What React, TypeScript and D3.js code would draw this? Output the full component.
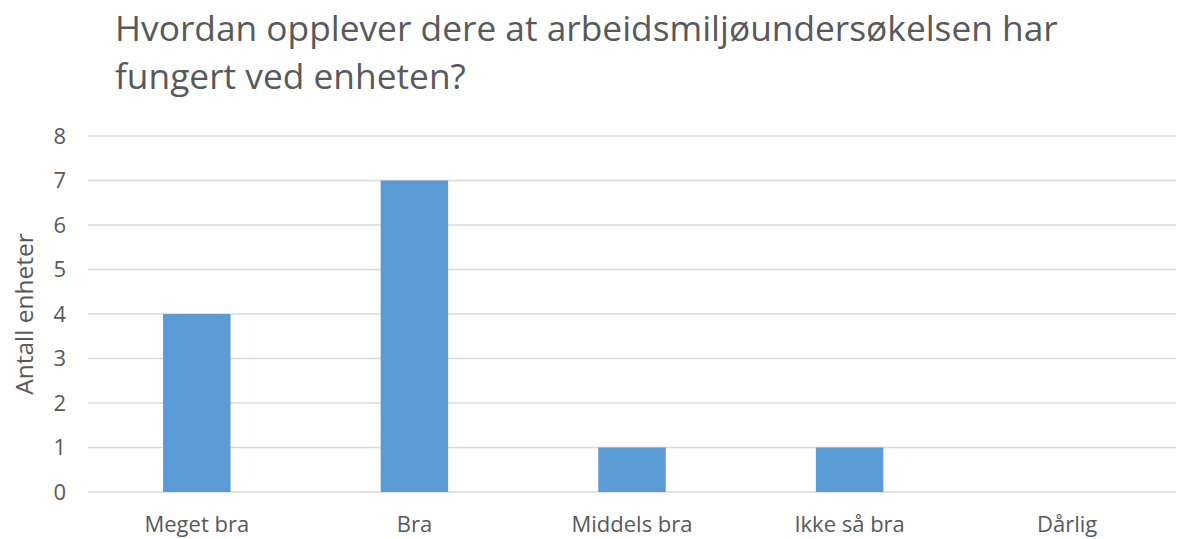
import React from "react";
import * as d3 from "d3";

const categories = ["Meget bra", "Bra", "Middels bra", "Ikke så bra", "Dårlig"];
const values = [4, 7, 1, 1, 0];
const yTicks = [0, 1, 2, 3, 4, 5, 6, 7, 8];
const titleLines = [
  "Hvordan opplever dere at arbeidsmiljøundersøkelsen har",
  "fungert ved enheten?",
];

const width = 1177;
const height = 539;
const margin = { top: 136, right: 1, bottom: 47, left: 88 };
const font = "'Open Sans', 'Noto Sans', sans-serif";
const textColor = "#595959";

export default function App() {
  const x = d3
    .scaleBand<string>()
    .domain(categories)
    .range([margin.left, width - margin.right])
    .paddingInner(0.69)
    .paddingOuter(0.345);
  const y = d3
    .scaleLinear()
    .domain([0, 8])
    .range([height - margin.bottom, margin.top]);

  return (
    <svg
      width={width}
      height={height}
      style={{ position: "absolute", left: 0, top: 0, background: "#fff" }}
      fontFamily={font}
    >
      {titleLines.map((t, i) => (
        <text key={t} x={115} y={41 + i * 48} fontSize={35.3} fill={textColor}>
          {t}
        </text>
      ))}

      {/* gridlines */}
      {yTicks.map((t) => (
        <line
          key={t}
          x1={margin.left}
          x2={width - margin.right}
          y1={y(t)}
          y2={y(t)}
          stroke="#d9d9d9"
          strokeWidth={1.3}
        />
      ))}
      {yTicks.map((t) => (
        <text
          key={"l" + t}
          x={66}
          y={y(t)}
          dy="0.36em"
          textAnchor="end"
          fontSize={22}
          fill={textColor}
        >
          {t}
        </text>
      ))}

      <text
        transform={`translate(33, ${y(4)}) rotate(-90)`}
        textAnchor="middle"
        fontSize={24.5}
        fill={textColor}
      >
        Antall enheter
      </text>

      {/* bars */}
      {categories.map((c, i) => (
        <rect
          key={c}
          x={x(c)}
          y={y(values[i])}
          width={x.bandwidth()}
          height={y(0) - y(values[i])}
          fill="#5b9bd5"
        />
      ))}

      {categories.map((c) => (
        <text
          key={"c" + c}
          x={(x(c) ?? 0) + x.bandwidth() / 2}
          y={532}
          textAnchor="middle"
          fontSize={22}
          fill={textColor}
        >
          {c}
        </text>
      ))}
    </svg>
  );
}
